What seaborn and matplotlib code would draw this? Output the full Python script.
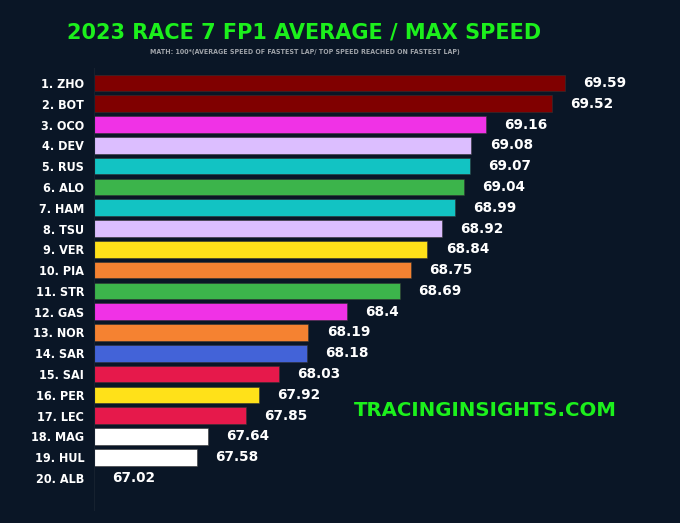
import matplotlib
matplotlib.use('Agg')
import matplotlib.pyplot as plt
import seaborn as sns
import pandas as pd

# data
drivers = ['1. ZHO', '2. BOT', '3. OCO', '4. DEV', '5. RUS', '6. ALO', '7. HAM', '8. TSU',
           '9. VER', '10. PIA', '11. STR', '12. GAS', '13. NOR', '14. SAR', '15. SAI',
           '16. PER', '17. LEC', '18. MAG', '19. HUL', '20. ALB']
speed_ratio = [69.59, 69.52, 69.16, 69.08, 69.07, 69.04, 68.99, 68.92, 68.84, 68.75,
               68.69, 68.4, 68.19, 68.18, 68.03, 67.92, 67.85, 67.64, 67.58, 67.02]
bar_colors = ['#800000', '#800000', '#f032e6', '#dcbeff', '#12c3c3', '#3cb44b', '#12c3c3',
              '#dcbeff', '#ffe119', '#f58231', '#3cb44b', '#f032e6', '#f58231', '#4363d8',
              '#e6194b', '#ffe119', '#e6194b', '#ffffff', '#ffffff', '#1e90ff']

title = '2023 RACE 7 FP1 AVERAGE / MAX SPEED'
subtitle = 'MATH: 100*(AVERAGE SPEED OF FASTEST LAP/ TOP SPEED REACHED ON FASTEST LAP)'
watermark = 'TRACINGINSIGHTS.COM'

bg = '#0a1626'
green = '#1cf01c'

df = pd.DataFrame({'driver': drivers, 'value': speed_ratio})
palette = dict(zip(drivers, bar_colors))

sns.set_style('dark')
plt.rcParams['font.family'] = ['DejaVu Sans']

fig = plt.figure(figsize=(6.8, 5.23), dpi=100, facecolor=bg)
ax = fig.add_axes([94 / 680, 13 / 523, 546 / 680, 442 / 523])
ax.set_facecolor(bg)

sns.barplot(data=df, y='driver', x='value', hue='driver', palette=palette,
            orient='h', width=0.8, legend=False, ax=ax, saturation=1,
            edgecolor='#333333', linewidth=0.4)

ax.set_xlim(min(speed_ratio), 70.0)
ax.set_ylim(20.54, -0.72)
ax.set_xlabel('')
ax.set_ylabel('')
ax.set_xticks([])
ax.grid(False)
for side in ['top', 'right', 'bottom']:
    ax.spines[side].set_visible(False)
ax.spines['left'].set_color('#16212f')
ax.spines['left'].set_linewidth(0.8)

ax.tick_params(axis='y', length=0, pad=7)
for lbl in ax.get_yticklabels():
    lbl.set_color('white')
    lbl.set_fontsize(9)
    lbl.set_fontweight('bold')
    lbl.set_fontstretch('condensed')

for i, v in enumerate(speed_ratio):
    ax.text(v + 0.1, i, f'{v}', color='white', fontsize=9.8, fontweight='bold',
            va='center', ha='left')

fig.text(304 / 680, 1 - 33 / 523, title, color=green, fontsize=15, fontweight='bold',
         ha='center', va='center')
fig.text(305 / 680, 1 - 52 / 523, subtitle, color='#a0a4aa', fontsize=5,
         ha='center', va='center', fontweight='bold', fontstretch='condensed')
fig.text(485 / 680, 1 - 410 / 523, watermark, color=green, fontsize=14.2,
         ha='center', va='center', fontweight='bold')

fig.savefig('out.png', dpi=100, facecolor=bg)
